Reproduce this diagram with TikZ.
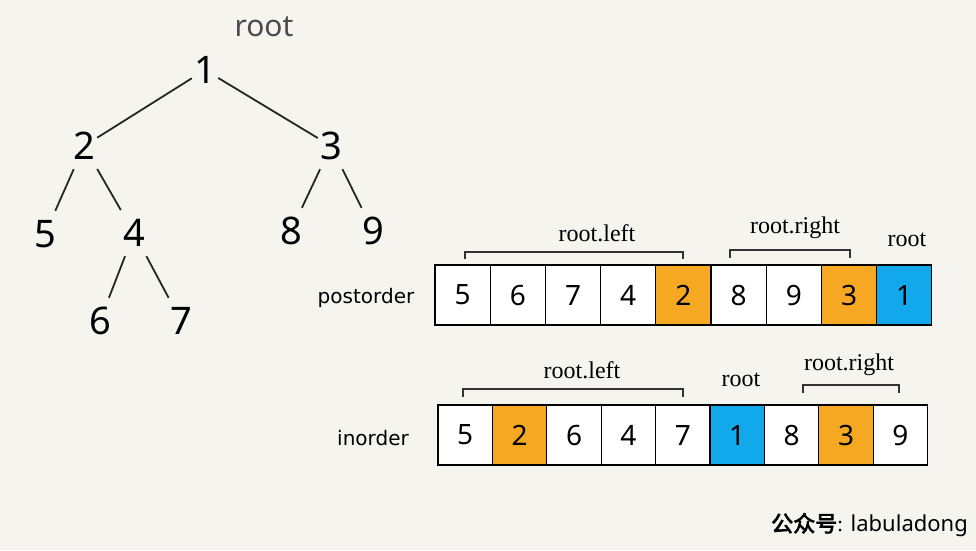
\documentclass[tikz,border=0pt]{standalone}
\usepackage{fontspec}
\setmainfont{Liberation Serif}
\newfontfamily\numfont{Noto Sans}
\newfontfamily\lblfont{DejaVu Sans}
\newfontfamily\cjk[FakeBold=3]{Noto Sans CJK SC}
\definecolor{bg}{HTML}{F6F4EF}
\definecolor{org}{HTML}{F7A823}
\definecolor{blu}{HTML}{12A8EC}
\begin{document}
\begin{tikzpicture}[x=1pt,y=-1pt,
  tnum/.style={rectangle,inner sep=0,minimum width=26pt,minimum height=46pt,font=\numfont\fontsize{38}{38}\selectfont},
  tedge/.style={line width=1.8pt,black!85},
  cell/.style={draw=black,fill=white,line width=1.3pt,inner sep=0,minimum height=60pt,font=\numfont\fontsize{28}{28}\selectfont},
  pcell/.style={cell,minimum width=55.2pt},
  icell/.style={cell,minimum width=54.4pt},
  ocell/.style={fill=org},
  bcell/.style={fill=blu},
  serifl/.style={font=\fontsize{24}{24}\selectfont,inner sep=0},
  arrl/.style={font=\lblfont\fontsize{20}{20}\selectfont,inner sep=0},
  brk/.style={line width=1.3pt,black!80}
]
\fill[bg] (0,0) rectangle (976,550);
\useasboundingbox (0,0) rectangle (976,550);

% tree
\node[font=\numfont\fontsize{30}{30}\selectfont,text=black!70,inner sep=0] (rootlbl) at (264,27) {root};
\node[tnum] (n1) at (205,70) {1};
\node[tnum] (n2) at (84,146) {2};
\node[tnum] (n3) at (331,146) {3};
\node[tnum] (n5) at (45,234) {5};
\node[tnum] (n4) at (134,233) {4};
\node[tnum] (n8) at (291,231) {8};
\node[tnum] (n9) at (373,231) {9};
\node[tnum] (n6) at (100,321) {6};
\node[tnum] (n7) at (181,321) {7};
\draw[tedge] (n1) -- (n2);
\draw[tedge] (n1) -- (n3);
\draw[tedge] (n2) -- (n5);
\draw[tedge] (n2) -- (n4);
\draw[tedge] (n3) -- (n8);
\draw[tedge] (n3) -- (n9);
\draw[tedge] (n4) -- (n6);
\draw[tedge] (n4) -- (n7);

% postorder
\node[arrl] (plbl) at (366,298) {postorder};
\node[pcell] (p1) at (462.6,295) {5};
\node[pcell] (p2) at (517.8,295) {6};
\node[pcell] (p3) at (573.0,295) {7};
\node[pcell] (p4) at (628.2,295) {4};
\node[pcell,ocell] (p5) at (683.4,295) {2};
\node[pcell] (p6) at (738.6,295) {8};
\node[pcell] (p7) at (793.8,295) {9};
\node[pcell,ocell] (p8) at (849.0,295) {3};
\node[pcell,bcell] (p9) at (904.2,295) {1};

\node[serifl] (plt) at (597,233) {root.left};
\node[serifl] (prt) at (795,228) {root.right};
\node[serifl] (prr) at (907,240) {root};
\coordinate (pla) at (465,259);
\coordinate (plb) at (683,259);
\coordinate (pra) at (730,258);
\coordinate (prb) at (850,258);
\draw[brk] (pla) -- ++(0,-7) -| (plb);
\draw[brk] (pra) -- ++(0,-8) -| (prb);

% inorder
\node[arrl] (ilbl) at (373,438) {inorder};
\node[icell] (i1) at (465.2,435) {5};
\node[icell,ocell] (i2) at (519.6,435) {2};
\node[icell] (i3) at (574.0,435) {6};
\node[icell] (i4) at (628.4,435) {4};
\node[icell] (i5) at (682.8,435) {7};
\node[icell,bcell] (i6) at (737.2,435) {1};
\node[icell] (i7) at (791.6,435) {8};
\node[icell,ocell] (i8) at (846.0,435) {3};
\node[icell] (i9) at (900.4,435) {9};

\node[serifl] (ilt) at (582,370) {root.left};
\node[serifl] (irr) at (741,380) {root};
\node[serifl] (irt) at (849,365) {root.right};
\coordinate (ila) at (463,397);
\coordinate (ilb) at (683,397);
\coordinate (ira) at (803,393);
\coordinate (irb) at (899,393);
\draw[brk] (ila) -- ++(0,-8) -| (ilb);
\draw[brk] (ira) -- ++(0,-8) -| (irb);

% watermark
\node[anchor=east,inner sep=0,font=\fontsize{22}{22}\selectfont] (wm) at (968,525) {{\cjk 公众号}: {\numfont labuladong}};
\end{tikzpicture}
\end{document}
